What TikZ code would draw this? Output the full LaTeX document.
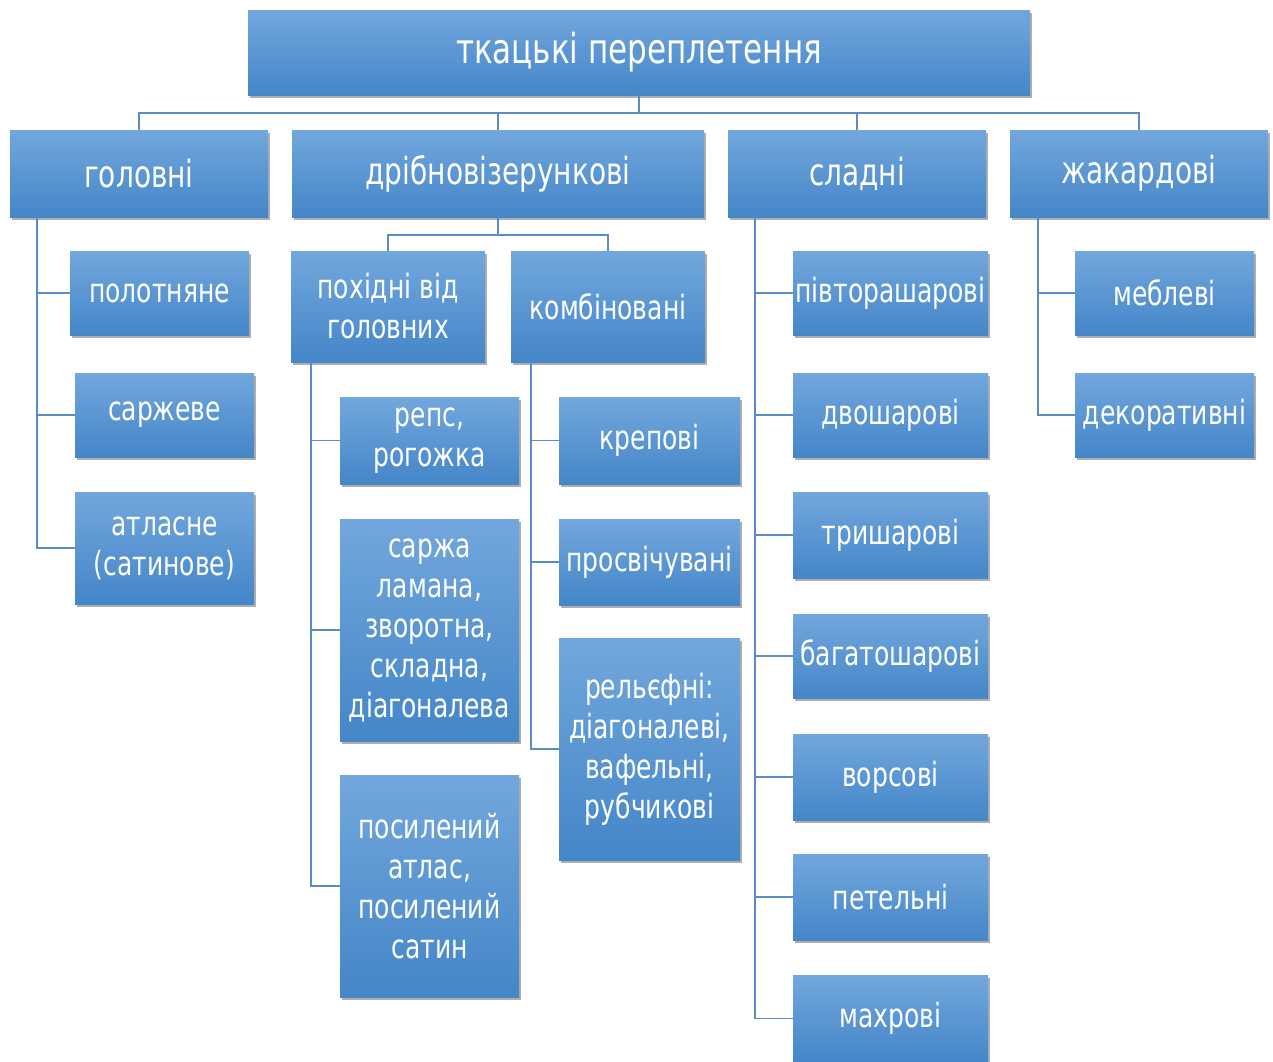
\documentclass[tikz,border=0pt]{standalone}
\usepackage{fontspec}
\setmainfont{DejaVu Sans}[FakeStretch=0.75]
\usetikzlibrary{shadows,calc}
\definecolor{bTop}{RGB}{114,167,221}
\definecolor{bMid}{RGB}{88,155,217}
\definecolor{bBot}{RGB}{68,134,200}
\definecolor{lineC}{RGB}{92,140,200}
\tikzset{
  boxst/.style={rectangle, draw=none, top color=bTop, middle color=bMid, bottom color=bBot,
    text=white, align=center, inner sep=1pt, font=\fontsize{25}{30}\selectfont,
    drop shadow={shadow xshift=1.5pt, shadow yshift=-2.5pt, opacity=0.45, fill=black!70}},
  conn/.style={draw=lineC, line width=1.3pt}
}
\newcommand\bx[6]{%
  \node[boxst, minimum width={(#4-#2)*0.75pt}, minimum height={(#5-#3)*0.75pt}]
    (#1) at ({(#2+#4)/2},{(#3+#5)/2}) {#6};}
\begin{document}
\begin{tikzpicture}[x=0.75pt,y=-0.75pt]
\useasboundingbox (0,0) rectangle (1273,1061);
\clip (0,0) rectangle (1273,1061);
\fill[white] (0,0) rectangle (1273,1061);
% top
\begin{scope}[boxst/.append style={font=\fontsize{31}{36}\selectfont}]
\bx{top}{248}{10}{1030}{95}{ткацькі переплетення}
\end{scope}
% level 1
\begin{scope}[boxst/.append style={font=\fontsize{28}{33}\selectfont}]
\bx{gol}{10}{130}{268}{217}{головні}
\bx{dri}{292}{130}{704}{217}{дрібновізерункові}
\bx{skl}{728}{130}{986}{217}{сладні}
\bx{zha}{1010}{130}{1268}{217}{жакардові}
\end{scope}
% головні
\bx{pol}{70}{251}{249}{335}{полотняне}
\bx{sar}{75}{373}{254}{457}{саржеве}
\bx{atl}{75}{492}{254}{604}{атласне\\(сатинове)}
% дрібновізерункові
\bx{pokh}{291}{251}{485}{362}{похідні від\\головних}
\bx{komb}{511}{251}{705}{362}{комбіновані}
\bx{reps}{340}{397}{519}{484}{репс,\\рогожка}
\bx{sarzh}{340}{519}{519}{741}{саржа\\ламана,\\зворотна,\\складна,\\діагоналева}
\bx{posyl}{340}{775}{519}{997}{посилений\\атлас,\\посилений\\сатин}
\bx{krep}{559}{397}{740}{484}{крепові}
\bx{prosv}{559}{519}{740}{605}{просвічувані}
\bx{rel}{559}{638}{740}{860}{рельєфні:\\діагоналеві,\\вафельні,\\рубчикові}
% сладні
\bx{pivt}{793}{251}{988}{335}{півторашарові}
\bx{dvo}{793}{373}{988}{457}{двошарові}
\bx{try}{793}{492}{988}{578}{тришарові}
\bx{bag}{793}{614}{988}{698}{багатошарові}
\bx{vors}{793}{734}{988}{820}{ворсові}
\bx{pet}{793}{854}{988}{940}{петельні}
\bx{makh}{793}{975}{988}{1062}{махрові}
% жакардові
\bx{mebl}{1075}{251}{1254}{335}{меблеві}
\bx{dek}{1075}{373}{1254}{457}{декоративні}
% connectors: top level
\coordinate (tj) at ($(top.south)+(0,18)$);
\foreach \c in {gol,dri,skl,zha}{\draw[conn] (top.south) -- (tj) -| (\c.north);}
% дрібновізерункові split
\coordinate (dj) at ($(dri.south)+(0,18)$);
\foreach \c in {pokh,komb}{\draw[conn] (dri.south) -- (dj) -| (\c.north);}
% side trees
\foreach \c in {pol,sar,atl}{\draw[conn] ($(gol.south west)+(27,0)$) |- (\c.west);}
\foreach \c in {reps,sarzh,posyl}{\draw[conn] ($(pokh.south west)+(20,0)$) |- (\c.west);}
\foreach \c in {krep,prosv,rel}{\draw[conn] ($(komb.south west)+(20,0)$) |- (\c.west);}
\foreach \c in {pivt,dvo,try,bag,vors,pet,makh}{\draw[conn] ($(skl.south west)+(27,0)$) |- (\c.west);}
\foreach \c in {mebl,dek}{\draw[conn] ($(zha.south west)+(28,0)$) |- (\c.west);}
\end{tikzpicture}
\end{document}
